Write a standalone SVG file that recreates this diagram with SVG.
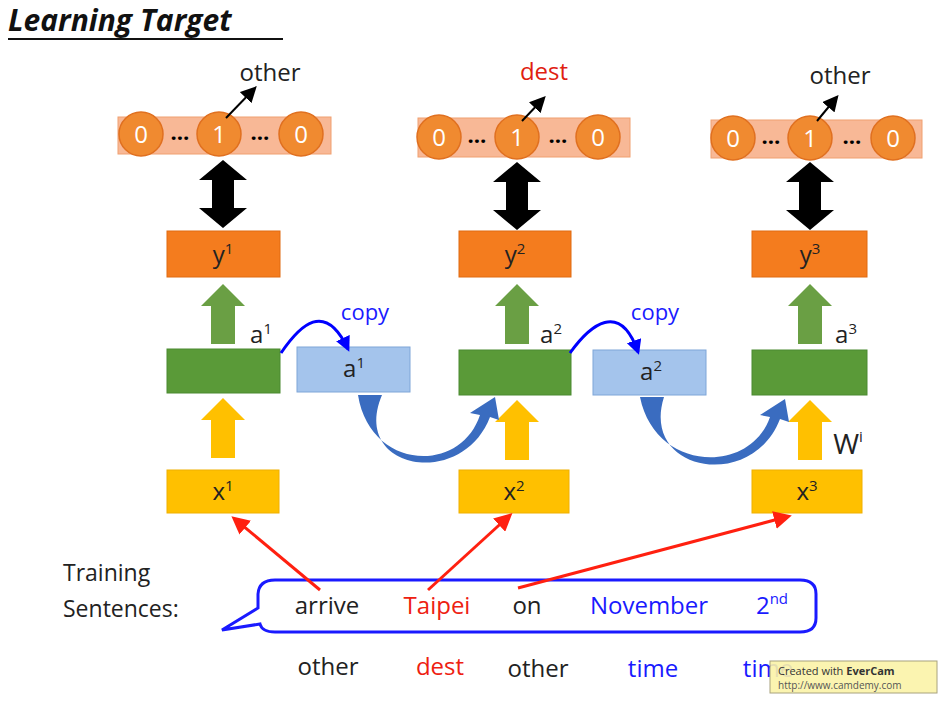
<svg xmlns="http://www.w3.org/2000/svg" width="943" height="702" viewBox="0 0 943 702">
<defs>
<style>
text{font-family:"Open Sans","Liberation Sans",sans-serif}
.bar{fill:#f8b896;stroke:#f0a070}
.c{fill:#f08a30;stroke:#e07020;stroke-width:1.5}
.ct{fill:#fff;font-size:24px;text-anchor:middle}
.dots{font-size:22px;font-weight:bold;text-anchor:middle}
.yb{fill:#f47c1e;stroke:#e06a10}
.gb{fill:#5a9a38;stroke:#4a8a30}
.xb{fill:#ffc000;stroke:#f0b000}
.ab{fill:#a4c4ec;stroke:#7fa6d8}
.lbl{font-size:24px;text-anchor:middle;fill:#222}
.sup{font-size:15px}
.bw{font-size:24px;text-anchor:middle}
</style>
<marker id="bk" markerWidth="8" markerHeight="8" refX="6" refY="4" orient="auto"><path d="M0,0 L8,4 L0,8z" fill="#000"/></marker>
<marker id="bl" markerWidth="5" markerHeight="5" refX="4" refY="2.5" orient="auto"><path d="M0,0 L5,2.5 L0,5z" fill="#0000ff"/></marker>
<marker id="rd" markerWidth="6" markerHeight="6" refX="4" refY="3" orient="auto"><path d="M0,0 L6,3 L0,6z" fill="#ff2010"/></marker>
<g id="darr"><path d="M0,-34 L-24,-14 L-11,-14 L-11,14 L-24,14 L0,34 L24,14 L11,14 L11,-14 L24,-14z" fill="#000"/></g>
<g id="garr"><path d="M0,-30 L-22,-8 L-12,-8 L-12,30 L12,30 L12,-8 L22,-8z" fill="#6a9f44"/></g>
<g id="yarr"><path d="M0,-30 L-22,-8 L-12,-8 L-12,30 L12,30 L12,-8 L22,-8z" fill="#ffc000"/></g>
</defs>
<rect width="943" height="702" fill="#fff"/>
<text x="8" y="31" font-size="30" font-weight="bold" font-style="italic" fill="#111">Learning Target</text>
<line x1="8" y1="39" x2="283" y2="39" stroke="#111" stroke-width="2"/>

<g id="col1">
<rect class="bar" x="118" y="117" width="213" height="37"/>
<circle class="c" cx="141" cy="134" r="22"/><text class="ct" x="141" y="143">0</text>
<text class="dots" x="180" y="140">…</text>
<circle class="c" cx="219" cy="134" r="22"/><text class="ct" x="219" y="143">1</text>
<text class="dots" x="260" y="140">…</text>
<circle class="c" cx="301" cy="134" r="22"/><text class="ct" x="301" y="143">0</text>
<line x1="226" y1="118" x2="254" y2="89" stroke="#000" stroke-width="2" marker-end="url(#bk)"/>
<text class="lbl" x="270" y="81">other</text>
<use href="#darr" x="223" y="194"/>
<rect class="yb" x="167" y="231" width="113" height="46"/><text class="lbl" x="223" y="263">y<tspan class="sup" dy="-9">1</tspan></text>
<use href="#garr" x="223" y="314"/>
<text class="lbl" x="261" y="343">a<tspan class="sup" dy="-9">1</tspan></text>
<rect class="gb" x="167" y="349" width="113" height="44"/>
<use href="#yarr" x="223" y="428"/>
<rect class="xb" x="167" y="470" width="112" height="43"/><text class="lbl" x="223" y="500">x<tspan class="sup" dy="-9">1</tspan></text>
</g>

<g id="col2">
<rect class="bar" x="418" y="118" width="212" height="39"/>
<circle class="c" cx="439" cy="137" r="22"/><text class="ct" x="439" y="146">0</text>
<text class="dots" x="477" y="143">…</text>
<circle class="c" cx="517" cy="137" r="22"/><text class="ct" x="517" y="146">1</text>
<text class="dots" x="558" y="143">…</text>
<circle class="c" cx="598" cy="137" r="22"/><text class="ct" x="598" y="146">0</text>
<line x1="522" y1="121" x2="543" y2="99" stroke="#000" stroke-width="2" marker-end="url(#bk)"/>
<text class="lbl" x="544" y="80" style="fill:#e02010">dest</text>
<use href="#darr" x="517" y="196"/>
<rect class="yb" x="459" y="231" width="112" height="46"/><text class="lbl" x="515" y="263">y<tspan class="sup" dy="-9">2</tspan></text>
<use href="#garr" x="517" y="314"/>
<text class="lbl" x="551" y="343">a<tspan class="sup" dy="-9">2</tspan></text>
<rect class="gb" x="459" y="350" width="112" height="45"/>
<use href="#yarr" x="517" y="430"/>
<rect class="xb" x="459" y="470" width="110" height="43"/><text class="lbl" x="514" y="500">x<tspan class="sup" dy="-9">2</tspan></text>
</g>

<g id="col3">
<rect class="bar" x="711" y="120" width="211" height="38"/>
<circle class="c" cx="733" cy="138" r="22"/><text class="ct" x="733" y="147">0</text>
<text class="dots" x="771" y="144">…</text>
<circle class="c" cx="810" cy="138" r="22"/><text class="ct" x="810" y="147">1</text>
<text class="dots" x="852" y="144">…</text>
<circle class="c" cx="893" cy="138" r="22"/><text class="ct" x="893" y="147">0</text>
<line x1="817" y1="121" x2="836" y2="98" stroke="#000" stroke-width="2" marker-end="url(#bk)"/>
<text class="lbl" x="840" y="84">other</text>
<use href="#darr" x="810" y="196"/>
<rect class="yb" x="752" y="231" width="115" height="46"/><text class="lbl" x="810" y="263">y<tspan class="sup" dy="-9">3</tspan></text>
<use href="#garr" x="810" y="314"/>
<text class="lbl" x="846" y="343">a<tspan class="sup" dy="-9">3</tspan></text>
<rect class="gb" x="752" y="350" width="115" height="45"/>
<use href="#yarr" x="810" y="430"/>
<text class="lbl" x="848" y="454" font-size="28" style="font-size:28px">W<tspan class="sup" dy="-12">i</tspan></text>
<rect class="xb" x="752" y="470" width="110" height="43"/><text class="lbl" x="807" y="500">x<tspan class="sup" dy="-9">3</tspan></text>
</g>

<g id="copy1">
<rect class="ab" x="297" y="347" width="113" height="45"/><text class="lbl" x="354" y="377">a<tspan class="sup" dy="-9">1</tspan></text>
<text x="365" y="320" font-size="22" fill="#1a1aff" text-anchor="middle">copy</text>
</g>
<g id="copy2">
<rect class="ab" x="593" y="350" width="113" height="45"/><text class="lbl" x="651" y="380">a<tspan class="sup" dy="-9">2</tspan></text>
<text x="655" y="320" font-size="22" fill="#1a1aff" text-anchor="middle">copy</text>
</g>

<g id="training">
<text x="63" y="581" font-size="23" fill="#222">Training</text>
<text x="63" y="617" font-size="23" fill="#222">Sentences:</text>
<path d="M275,580 H800 Q816,580 816,594 V618 Q816,632 800,632 H275 Q262,632 260,624 L222,630 L258,608 V594 Q259,580 275,580z" fill="#fff" stroke="#1a1aff" stroke-width="3"/>
<text class="bw" x="327" y="614" fill="#222">arrive</text>
<text class="bw" x="437" y="614" fill="#ee2010">Taipei</text>
<text class="bw" x="527" y="614" fill="#222">on</text>
<text class="bw" x="649" y="614" fill="#1a1aff">November</text>
<text class="bw" x="772" y="614" fill="#1a1aff">2<tspan font-size="15" dy="-10">nd</tspan></text>
<text class="bw" x="328" y="675" fill="#222">other</text>
<text class="bw" x="440" y="675" fill="#ee2010">dest</text>
<text class="bw" x="538" y="677" fill="#222">other</text>
<text class="bw" x="653" y="677" fill="#1a1aff">time</text>
<text class="bw" x="768" y="677" fill="#1a1aff">time</text>
</g>

<g id="connectors">
<path d="M281,353 C300,325 325,300 348,349" fill="none" stroke="#0000ff" stroke-width="3" marker-end="url(#bl)"/>
<path d="M570,353 C590,325 620,300 638,352" fill="none" stroke="#0000ff" stroke-width="3" marker-end="url(#bl)"/>
<path d="M358,395 C370,470 460,475 480,415 L470,413 L495,397 L499,420 L490,417 C462,490 350,470 382,395z" fill="#3a6cc0"/>
<path d="M640,397 C655,472 750,475 770,417 L760,415 L785,399 L789,422 L780,419 C752,492 640,472 664,397z" fill="#3a6cc0"/>
<line x1="320" y1="590" x2="236" y2="520" stroke="#ff2010" stroke-width="3" marker-end="url(#rd)"/>
<line x1="428" y1="590" x2="508" y2="517" stroke="#ff2010" stroke-width="3" marker-end="url(#rd)"/>
<line x1="518" y1="588" x2="786" y2="517" stroke="#ff2010" stroke-width="3" marker-end="url(#rd)"/>
</g>

<g id="watermark">
<rect x="770" y="661" width="167" height="32" fill="#fbf3a8" stroke="#a09a70" opacity="0.9"/>
<text x="778" y="675" font-size="11" fill="#333">Created with <tspan font-weight="bold">EverCam</tspan></text>
<text x="778" y="689" font-size="10" fill="#555">http://www.camdemy.com</text>
</g>
</svg>
